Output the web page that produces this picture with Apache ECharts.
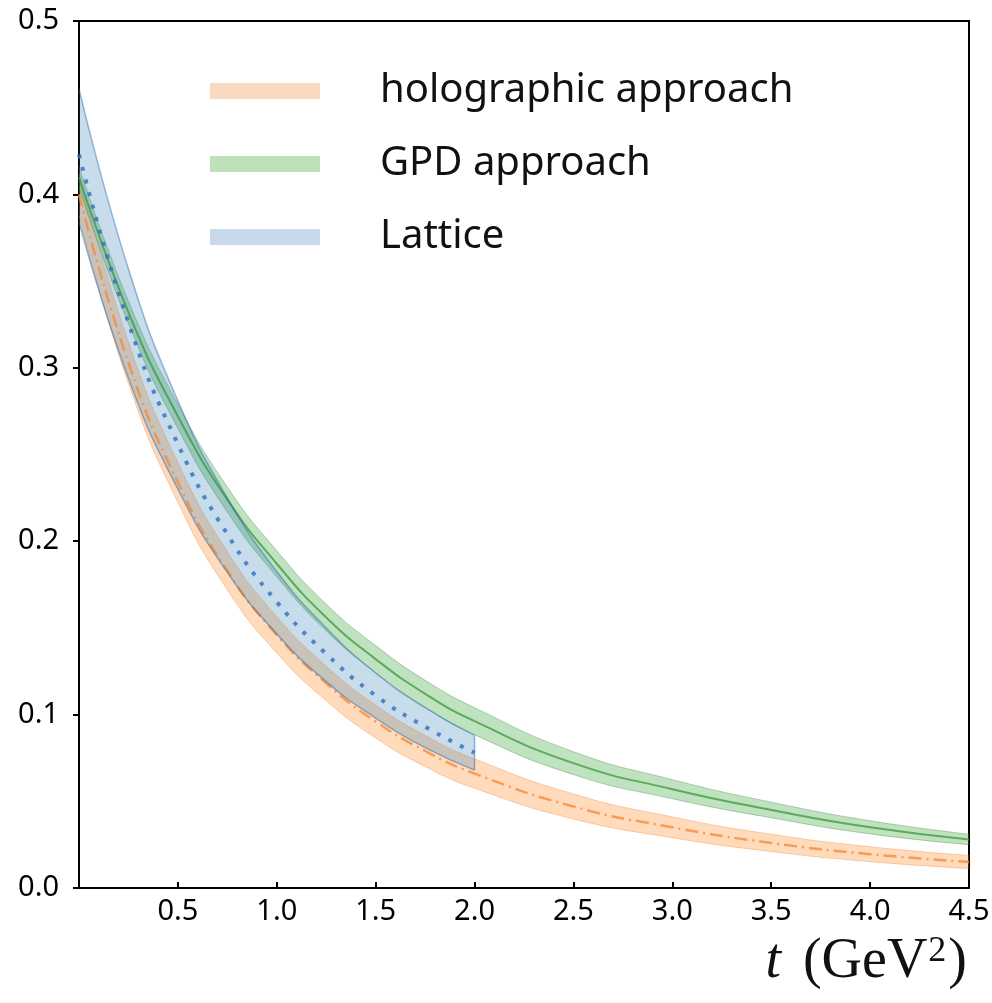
<!DOCTYPE html>
<html>
<head>
<meta charset="utf-8">
<title>form factor</title>
<script src="https://cdn.jsdelivr.net/npm/echarts@6/dist/echarts.min.js"></script>
<style>
  html, body { margin: 0; padding: 0; background: #fff; }
  #chart { width: 992px; height: 1003px; }
</style>
</head>
<body>
<div id="chart"></div>
<script>
// t values (GeV^2) at which the curves were read
const tValues = [0, 0.25, 0.5, 0.75, 1.0, 1.25, 1.5, 1.75, 2.0, 2.5, 3.0, 3.5, 4.0, 4.5]

// holographic approach: central line and band
const holoMid = [0.400, 0.303, 0.234, 0.183, 0.146, 0.118, 0.096, 0.079, 0.066, 0.047, 0.035, 0.026, 0.0195, 0.015]
const holoLow = [0.3875, 0.291, 0.2225, 0.172, 0.1355, 0.108, 0.0865, 0.070, 0.0575, 0.0398, 0.029, 0.021, 0.0152, 0.0112]
const holoHigh = [0.4125, 0.315, 0.2455, 0.194, 0.1565, 0.128, 0.1055, 0.088, 0.0745, 0.0542, 0.041, 0.031, 0.0238, 0.0188]

// GPD approach
const gpdMid = [0.410, 0.332, 0.272, 0.224, 0.187, 0.156, 0.132, 0.112, 0.0962, 0.072, 0.057, 0.045, 0.035, 0.028]
const gpdLow = [0.404, 0.3255, 0.265, 0.2168, 0.1795, 0.1483, 0.1242, 0.1042, 0.0884, 0.0654, 0.0515, 0.0405, 0.0312, 0.025]
const gpdHigh = [0.416, 0.3385, 0.279, 0.2312, 0.1945, 0.1637, 0.1398, 0.1198, 0.104, 0.0786, 0.0625, 0.0495, 0.0388, 0.031]

// Lattice, only up to t = 2
const latT = [0, 0.25, 0.5, 0.75, 1.0, 1.25, 1.5, 1.75, 2.0]
const latMid = [0.423, 0.326, 0.256, 0.204, 0.165, 0.135, 0.111, 0.093, 0.078]
const latLow = [0.384, 0.294, 0.230, 0.182, 0.1465, 0.119, 0.098, 0.081, 0.068]
const latHigh = [0.461, 0.357, 0.281, 0.225, 0.1825, 0.150, 0.124, 0.104, 0.088]

const xTicks = [0.5, 1.0, 1.5, 2.0, 2.5, 3.0, 3.5, 4.0, 4.5]
const yTicks = [0.0, 0.1, 0.2, 0.3, 0.4, 0.5]

const pairs = (xs, ys) => xs.map((x, i) => [x, ys[i]])
// value first so that the stack goes on y (encode puts t on x)
const lowRows = (xs, lo) => xs.map((x, i) => [lo[i], x])
const widthRows = (xs, hi, lo) => xs.map((x, i) => [+(hi[i] - lo[i]).toFixed(5), x])

const names = ['holographic approach', 'GPD approach', 'Lattice']

// one band = lower edge + stacked width with area
const band = (name, stack, xs, lo, hi, fill, edge, edgeW) => [
  {
    name: stack + '-low', type: 'line', stack: stack, smooth: true, symbol: 'none', silent: true,
    encode: { x: 1, y: 0 },
    data: lowRows(xs, lo), lineStyle: { color: edge, width: edgeW }
  },
  {
    name: name, type: 'line', stack: stack, smooth: true, symbol: 'none', silent: true,
    encode: { x: 1, y: 0 },
    data: widthRows(xs, hi, lo), lineStyle: { color: edge, width: edgeW },
    itemStyle: { color: fill },
    areaStyle: { color: fill, opacity: 1 }
  }
]

const chart = echarts.init(document.getElementById('chart'))
const option = {
  backgroundColor: '#fff',
  animation: false,
  grid: {
    left: 79, right: 23, top: 21, bottom: 115,
    show: true, borderColor: '#000', borderWidth: 2,
    containLabel: false, outerBoundsMode: 'none'
  },
  legend: {
    orient: 'vertical', left: 205, top: 66, itemWidth: 110, itemHeight: 16, itemGap: 33,
    icon: 'rect', selectedMode: false,
    textStyle: { fontFamily: 'Noto Sans', fontSize: 40, color: '#111', lineHeight: 40, padding: [0, 0, 0, 55] },
    data: [
      { name: names[0], itemStyle: { color: '#fbd8c0' } },
      { name: names[1], itemStyle: { color: '#bfe0bb' } },
      { name: names[2], itemStyle: { color: '#c9d9ec' } }
    ]
  },
  xAxis: {
    type: 'value', min: 0, max: 4.5, interval: 0.5,
    name: '{it|t}{n|(GeV}{sup|2}{n|)}',
    nameLocation: 'end', nameGap: -2, nameMoveOverlap: false,
    nameTextStyle: {
      fontFamily: 'Liberation Serif', fontSize: 56, color: '#111',
      align: 'right', verticalAlign: 'top', padding: [46, 0, 0, 0],
      rich: {
        it: { fontFamily: 'Liberation Serif', fontStyle: 'italic', fontSize: 56, color: '#111', padding: [0, 22, 0, 0] },
        n: { fontFamily: 'Liberation Serif', fontSize: 56, color: '#111' },
        sup: { fontFamily: 'Liberation Serif', fontSize: 36, color: '#111', verticalAlign: 'top', padding: [0, 2, 0, 1] }
      }
    },
    axisLine: { lineStyle: { color: '#000', width: 2 } },
    axisTick: { inside: true, length: 6, lineStyle: { color: '#000', width: 2 } },
    axisLabel: {
      margin: 9, fontFamily: 'Noto Sans', fontSize: 29, color: '#000',
      formatter: v => (xTicks.indexOf(v) >= 0 ? v.toFixed(1) : '')
    },
    splitLine: { show: false }
  },
  yAxis: {
    type: 'value', min: 0, max: 0.5, interval: 0.1,
    axisLine: { show: true, lineStyle: { color: '#000', width: 2 } },
    axisTick: { show: true, length: 6, lineStyle: { color: '#000', width: 2 } },
    axisLabel: {
      margin: 20, fontFamily: 'Noto Sans', fontSize: 29, color: '#000',
      formatter: v => yTicks.find(y => Math.abs(y - v) < 1e-9).toFixed(1)
    },
    splitLine: { show: false }
  },
  series: [
    ...band(names[0], 'holo', tValues, holoLow, holoHigh, 'rgba(255,127,14,0.28)', 'rgba(240,130,50,0.35)', 1),
    {
      name: 'holo-mid', type: 'line', smooth: true, symbol: 'none', silent: true,
      data: pairs(tValues, holoMid),
      lineStyle: { color: 'rgba(245,140,60,0.8)', width: 2.5, type: [13, 5, 2, 5] }
    },
    ...band(names[1], 'gpd', tValues, gpdLow, gpdHigh, 'rgba(44,160,44,0.3)', 'rgba(80,140,80,0.4)', 1),
    {
      name: 'gpd-mid', type: 'line', smooth: true, symbol: 'none', silent: true,
      data: pairs(tValues, gpdMid),
      lineStyle: { color: 'rgba(60,150,60,0.75)', width: 2 }
    },
    ...band(names[2], 'lat', latT, latLow, latHigh, 'rgba(31,119,180,0.25)', 'rgba(31,100,180,0.45)', 1.5),
    {
      name: 'lat-edge', type: 'line', symbol: 'none', silent: true,
      data: [[latT[latT.length - 1], latLow[latLow.length - 1]], [latT[latT.length - 1], latHigh[latHigh.length - 1]]],
      lineStyle: { color: 'rgba(31,100,180,0.45)', width: 1.5 }
    },
    {
      name: 'lat-mid', type: 'line', smooth: true, symbol: 'none', silent: true,
      data: pairs(latT, latMid),
      lineStyle: { color: 'rgba(50,110,190,0.8)', width: 4, type: [4, 9], cap: 'butt' }
    }
  ]
}
chart.setOption(option)
</script>
</body>
</html>
